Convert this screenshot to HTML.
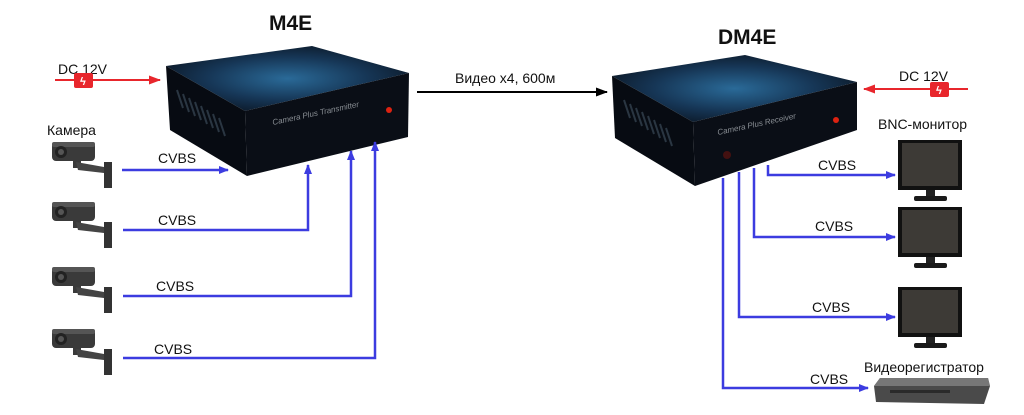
<!DOCTYPE html>
<html><head><meta charset="utf-8"><style>
html,body{margin:0;padding:0;background:#fff;}
svg{display:block;font-family:"Liberation Sans",sans-serif;}
</style></head><body>
<svg width="1024" height="415" viewBox="0 0 1024 415" xmlns="http://www.w3.org/2000/svg">
<defs>
<radialGradient id="top" cx="0.5" cy="0.5" r="0.6">
<stop offset="0" stop-color="#2a6a98"/><stop offset="0.55" stop-color="#163656"/><stop offset="1" stop-color="#0a1420"/>
</radialGradient>
<marker id="ab" markerWidth="10" markerHeight="8" refX="9" refY="4" orient="auto" markerUnits="userSpaceOnUse"><path d="M0,0 L10,4 L0,8 Z" fill="#3c3ce0"/></marker>
<marker id="ar" markerWidth="12" markerHeight="9" refX="11" refY="4.5" orient="auto" markerUnits="userSpaceOnUse"><path d="M0,0 L12,4.5 L0,9 Z" fill="#e8262c"/></marker>
<marker id="ak" markerWidth="12" markerHeight="9" refX="11" refY="4.5" orient="auto" markerUnits="userSpaceOnUse"><path d="M0,0 L12,4.5 L0,9 Z" fill="#000"/></marker>
<g id="cam">
<rect x="73" y="158" width="8" height="10" fill="#3a3a3a"/>
<path d="M76,162 L104,167 L104,173 L78,170 Z" fill="#444"/>
<rect x="104" y="162" width="8" height="26" fill="#333"/>
<rect x="52" y="142" width="43" height="19" rx="4" fill="#3a3a3a"/>
<rect x="52" y="142" width="43" height="5" rx="2" fill="#555"/>
<circle cx="61" cy="152" r="6" fill="#222"/><circle cx="61" cy="152" r="3" fill="#555"/>
</g>
<g id="mon">
<rect x="898" y="140" width="64" height="50" fill="#111"/>
<rect x="902" y="143" width="56" height="43" fill="#3d3a36"/>
<rect x="926" y="190" width="9" height="7" fill="#222"/>
<rect x="914" y="196" width="33" height="5" rx="2" fill="#1a1a1a"/>
</g>
</defs>

<text x="269" y="30" font-size="21" font-weight="bold" fill="#111">M4E</text>
<text x="718" y="44" font-size="21" font-weight="bold" fill="#111">DM4E</text>

<!-- M4E box -->
<polygon points="166,66 312,46 409,73 245,111" fill="url(#top)"/>
<polygon points="166,66 245,111 247,176 170,130" fill="#070b12"/>
<polygon points="245,111 409,73 408,137 247,176" fill="#0a0e16"/>
<g stroke="#2a3642" stroke-width="2">
<line x1="177" y1="90" x2="183" y2="108"/><line x1="183" y1="94" x2="189" y2="112"/><line x1="189" y1="98" x2="195" y2="116"/><line x1="195" y1="102" x2="201" y2="120"/><line x1="201" y1="106" x2="207" y2="124"/><line x1="207" y1="110" x2="213" y2="128"/><line x1="213" y1="114" x2="219" y2="132"/><line x1="219" y1="118" x2="225" y2="136"/>
</g>
<text x="273" y="125" font-size="8" font-style="italic" fill="#8a8f95" transform="rotate(-12 273 125)">Camera Plus  Transmitter</text>
<circle cx="389" cy="110" r="3" fill="#d21"/>

<!-- DM4E box -->
<polygon points="612,76 745,55 857,82 693,122" fill="url(#top)"/>
<polygon points="612,76 693,122 695,186 615,138" fill="#070b12"/>
<polygon points="693,122 857,82 857,130 695,186" fill="#0a0e16"/>
<g stroke="#2a3642" stroke-width="2">
<line x1="624" y1="100" x2="630" y2="118"/><line x1="630" y1="104" x2="636" y2="122"/><line x1="636" y1="108" x2="642" y2="126"/><line x1="642" y1="112" x2="648" y2="130"/><line x1="648" y1="116" x2="654" y2="134"/><line x1="654" y1="120" x2="660" y2="138"/><line x1="660" y1="124" x2="666" y2="142"/><line x1="666" y1="128" x2="672" y2="146"/>
</g>
<text x="718" y="135" font-size="8" font-style="italic" fill="#8a8f95" transform="rotate(-12 718 135)">Camera Plus  Receiver</text>
<circle cx="836" cy="120" r="3" fill="#d21"/>
<circle cx="727" cy="155" r="4" fill="#411"/>

<text x="58" y="74" font-size="14" fill="#111">DC 12V</text>
<line x1="55" y1="80" x2="160" y2="80" stroke="#e8262c" stroke-width="2" marker-end="url(#ar)"/>
<rect x="74" y="73" width="19" height="15" rx="2" fill="#e8262c"/>
<text x="80" y="85" font-size="11" fill="#fff" font-weight="bold">ϟ</text>
<text x="899" y="81" font-size="14" fill="#111">DC 12V</text>
<line x1="968" y1="89" x2="864" y2="89" stroke="#e8262c" stroke-width="2" marker-end="url(#ar)"/>
<rect x="930" y="82" width="19" height="15" rx="2" fill="#e8262c"/>
<text x="936" y="94" font-size="11" fill="#fff" font-weight="bold">ϟ</text>

<line x1="417" y1="92" x2="607" y2="92" stroke="#000" stroke-width="2" marker-end="url(#ak)"/>
<text x="455" y="83" font-size="14" fill="#111">Видео x4,  600м</text>

<text x="47" y="135" font-size="14" fill="#111">Камера</text>
<use href="#cam"/>
<use href="#cam" y="60"/>
<use href="#cam" y="125"/>
<use href="#cam" y="187"/>

<g stroke="#3c3ce0" stroke-width="2.5" fill="none">
<line x1="122" y1="170" x2="228" y2="170" marker-end="url(#ab)"/>
<polyline points="123,230 308,230 308,165" marker-end="url(#ab)"/>
<polyline points="123,296 351,296 351,151" marker-end="url(#ab)"/>
<polyline points="123,358 375,358 375,142" marker-end="url(#ab)"/>
<polyline points="768,165 768,175 895,175" marker-end="url(#ab)"/>
<polyline points="754,168 754,237 895,237" marker-end="url(#ab)"/>
<polyline points="739,172 739,317 895,317" marker-end="url(#ab)"/>
<polyline points="723,178 723,388 868,388" marker-end="url(#ab)"/>
</g>
<g font-size="14" fill="#111">
<text x="158" y="163">CVBS</text>
<text x="158" y="225">CVBS</text>
<text x="156" y="291">CVBS</text>
<text x="154" y="354">CVBS</text>
<text x="818" y="170">CVBS</text>
<text x="815" y="231">CVBS</text>
<text x="812" y="312">CVBS</text>
<text x="810" y="384">CVBS</text>
</g>

<text x="878" y="129" font-size="14" fill="#111">BNC-монитор</text>
<use href="#mon"/>
<use href="#mon" y="67"/>
<use href="#mon" y="147"/>

<text x="864" y="372" font-size="14" fill="#111">Видеорегистратор</text>
<polygon points="880,378 988,378 990,386 984,404 876,402 874,386" fill="#4a4a4a"/>
<polygon points="880,378 988,378 990,386 874,386" fill="#777"/>
<rect x="890" y="390" width="60" height="3" fill="#2a2a2a"/>
</svg>
</body></html>
